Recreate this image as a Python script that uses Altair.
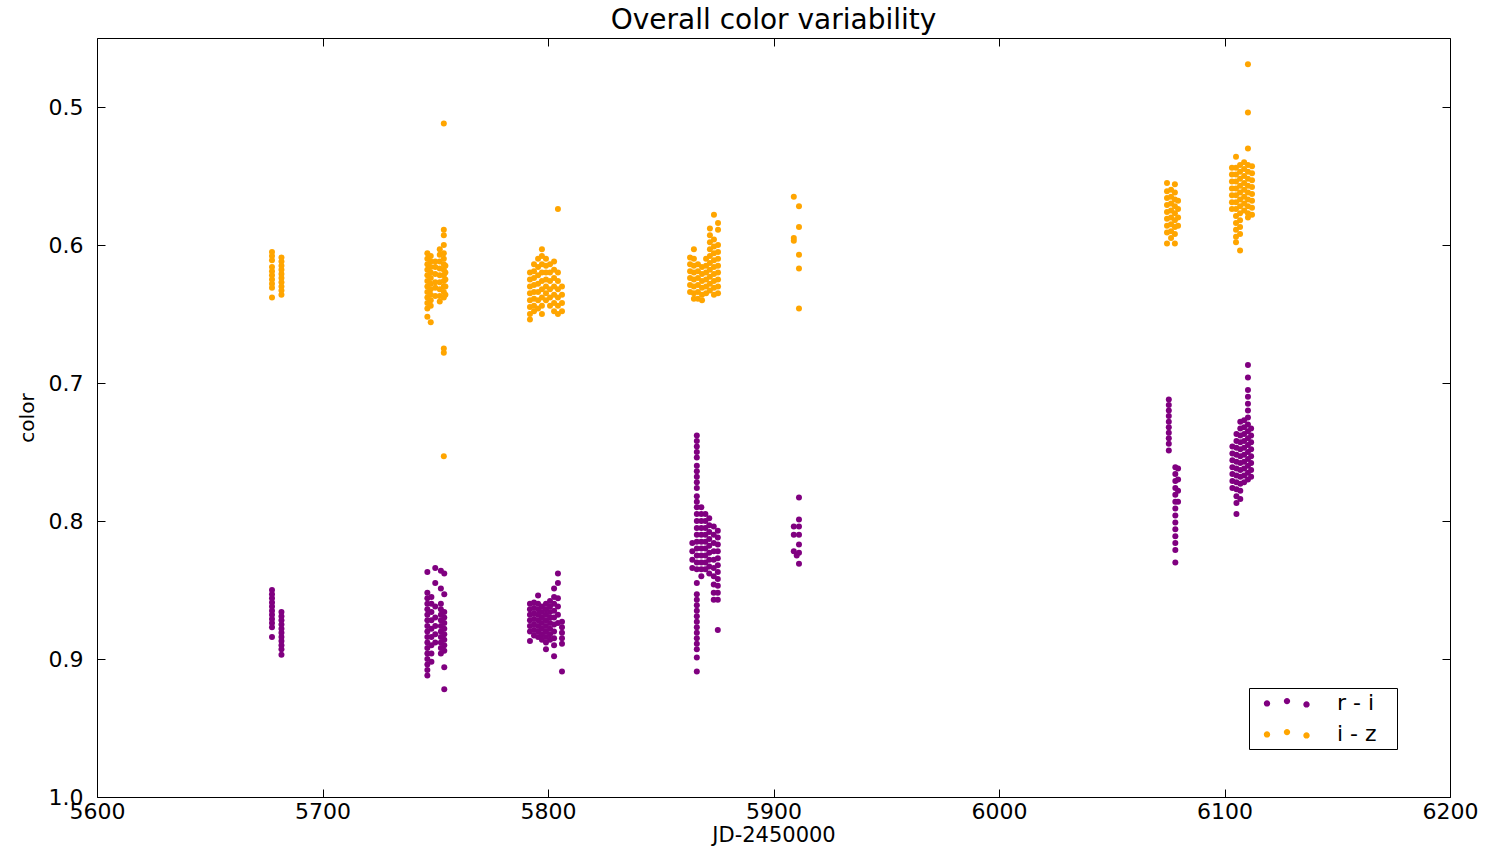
import altair as alt
import pandas as pd

# ---------------- data: columns of (JD-2450000, [colour values]) ----------------
# r - i
ri_s1 = [
    (5677.6, [0.850, 0.853, 0.856, 0.859, 0.862, 0.865, 0.868, 0.871, 0.874, 0.877, 0.884]),
    (5681.8, [0.866, 0.869, 0.872, 0.875, 0.878, 0.881, 0.884, 0.887, 0.890, 0.893, 0.897]),
]
ri_s2 = [
    (5746.5, [0.837, 0.852, 0.856, 0.860, 0.864, 0.868, 0.872, 0.876, 0.880, 0.884, 0.888, 0.892, 0.896, 0.900, 0.904, 0.908, 0.912]),
    (5748.3, [0.855, 0.860, 0.866, 0.872, 0.878, 0.884, 0.890, 0.896, 0.902]),
    (5750.0, [0.834, 0.845, 0.862, 0.870, 0.876, 0.882, 0.888]),
    (5752.5, [0.836, 0.849, 0.860, 0.864, 0.868, 0.872, 0.876, 0.880, 0.884, 0.888, 0.892, 0.896]),
    (5754.0, [0.838, 0.853, 0.866, 0.870, 0.874, 0.878, 0.882, 0.886, 0.890, 0.894, 0.906, 0.922]),
]
ri_s3 = [
    (5792.0, [0.860, 0.864, 0.868, 0.872, 0.876, 0.880, 0.887]),
    (5793.8, [0.859, 0.863, 0.867, 0.871, 0.875, 0.879, 0.883]),
    (5795.6, [0.854, 0.860, 0.864, 0.868, 0.872, 0.876, 0.880, 0.884]),
    (5797.3, [0.862, 0.866, 0.870, 0.874, 0.878, 0.882, 0.886]),
    (5799.1, [0.860, 0.864, 0.868, 0.872, 0.876, 0.880, 0.884, 0.888, 0.893]),
    (5800.9, [0.858, 0.862, 0.866, 0.870, 0.874, 0.878, 0.882, 0.886]),
    (5802.7, [0.849, 0.855, 0.860, 0.865, 0.870, 0.875, 0.880, 0.885, 0.890, 0.898]),
    (5804.4, [0.838, 0.845, 0.856, 0.862, 0.868, 0.874]),
    (5806.2, [0.873, 0.877, 0.881, 0.885, 0.889, 0.909]),
]
ri_s4 = [
    (5864.0, [0.816, 0.822, 0.828, 0.834]),
    (5866.0, [0.738, 0.742, 0.746, 0.750, 0.754, 0.760, 0.764, 0.768, 0.772, 0.776, 0.782, 0.786,
              0.790, 0.795, 0.800, 0.805, 0.810, 0.815, 0.820, 0.825, 0.830, 0.835, 0.845, 0.853,
              0.857, 0.861, 0.865, 0.869, 0.873, 0.877, 0.881, 0.885, 0.889, 0.893, 0.899, 0.909]),
    (5868.0, [0.790, 0.795, 0.800, 0.805, 0.810, 0.815, 0.820, 0.825, 0.830, 0.835, 0.840]),
    (5869.8, [0.795, 0.800, 0.805, 0.810, 0.815, 0.820, 0.825, 0.830, 0.835]),
    (5871.5, [0.798, 0.803, 0.808, 0.813, 0.818, 0.823, 0.828, 0.833, 0.838]),
    (5873.5, [0.804, 0.810, 0.816, 0.822, 0.828, 0.834, 0.840, 0.846, 0.852, 0.857]),
    (5875.3, [0.807, 0.812, 0.817, 0.822, 0.827, 0.832, 0.837, 0.842, 0.847, 0.852, 0.857, 0.879]),
    (5909.0, [0.804, 0.810, 0.822]),
    (5910.3, [0.825]),
    (5911.3, [0.783, 0.799, 0.804, 0.810, 0.817, 0.823, 0.831]),
]
ri_s5 = [
    (6075.3, [0.712, 0.716, 0.720, 0.724, 0.728, 0.732, 0.736, 0.740, 0.744, 0.749]),
    (6078.2, [0.761, 0.766, 0.771, 0.776, 0.781, 0.786, 0.791, 0.796, 0.801, 0.806, 0.811, 0.816, 0.821, 0.830]),
    (6079.4, [0.762, 0.770, 0.778, 0.786]),
    (6103.5, [0.746, 0.751, 0.756, 0.761, 0.766, 0.771, 0.776]),
    (6105.3, [0.737, 0.742, 0.747, 0.752, 0.757, 0.762, 0.767, 0.772, 0.777, 0.782, 0.787, 0.795]),
    (6107.0, [0.728, 0.733, 0.738, 0.743, 0.748, 0.753, 0.758, 0.763, 0.768, 0.773, 0.778, 0.784]),
    (6108.7, [0.727, 0.732, 0.737, 0.742, 0.747, 0.752, 0.757, 0.762, 0.767, 0.772]),
    (6110.4, [0.687, 0.696, 0.705, 0.710, 0.715, 0.720, 0.725, 0.730, 0.735, 0.740, 0.745, 0.750,
              0.755, 0.760, 0.765, 0.770]),
    (6111.8, [0.733, 0.738, 0.743, 0.748, 0.753, 0.758, 0.763, 0.768]),
]

# i - z
iz_s1 = [
    (5677.6, [0.605, 0.608, 0.611, 0.616, 0.619, 0.622, 0.625, 0.628, 0.631, 0.638]),
    (5681.8, [0.609, 0.612, 0.615, 0.618, 0.621, 0.624, 0.627, 0.630, 0.633, 0.636]),
]
iz_s2 = [
    (5746.5, [0.606, 0.610, 0.614, 0.618, 0.622, 0.626, 0.630, 0.634, 0.638, 0.642, 0.646, 0.652]),
    (5748.0, [0.608, 0.612, 0.616, 0.620, 0.624, 0.628, 0.632, 0.636, 0.640, 0.644, 0.656]),
    (5750.0, [0.612, 0.616, 0.621, 0.627, 0.631, 0.637]),
    (5752.0, [0.603, 0.607, 0.612, 0.617, 0.622, 0.627, 0.632, 0.637, 0.641]),
    (5753.8, [0.512, 0.589, 0.593, 0.600, 0.606, 0.610, 0.614, 0.618, 0.622, 0.626, 0.630, 0.634,
              0.638, 0.675, 0.678, 0.753]),
    (5754.5, [0.615, 0.620, 0.625, 0.630, 0.636]),
]
iz_s3 = [
    (5792.0, [0.620, 0.625, 0.630, 0.635, 0.640, 0.645, 0.650, 0.654]),
    (5793.8, [0.614, 0.619, 0.624, 0.629, 0.634, 0.639, 0.644, 0.648]),
    (5795.6, [0.610, 0.616, 0.622, 0.628, 0.634, 0.640, 0.646]),
    (5797.3, [0.603, 0.608, 0.614, 0.620, 0.626, 0.632, 0.638, 0.644, 0.650]),
    (5799.1, [0.610, 0.615, 0.620, 0.625, 0.630, 0.635, 0.640]),
    (5800.9, [0.614, 0.620, 0.626, 0.632, 0.638, 0.644]),
    (5802.7, [0.612, 0.618, 0.624, 0.630, 0.636, 0.642, 0.648]),
    (5804.4, [0.574, 0.620, 0.626, 0.632, 0.638, 0.644, 0.650]),
    (5806.2, [0.630, 0.636, 0.642, 0.648]),
]
iz_s4 = [
    (5863.0, [0.609, 0.614, 0.619, 0.624, 0.629, 0.634]),
    (5864.7, [0.603, 0.610, 0.615, 0.620, 0.625, 0.630, 0.635, 0.639]),
    (5866.5, [0.614, 0.619, 0.624, 0.629, 0.634, 0.639]),
    (5868.3, [0.616, 0.621, 0.626, 0.631, 0.636, 0.640]),
    (5870.1, [0.610, 0.615, 0.620, 0.625, 0.630, 0.635]),
    (5871.8, [0.588, 0.593, 0.598, 0.603, 0.608, 0.613, 0.618, 0.623, 0.628, 0.633]),
    (5873.6, [0.578, 0.596, 0.601, 0.606, 0.611, 0.616, 0.621, 0.626, 0.631, 0.636]),
    (5875.4, [0.584, 0.589, 0.600, 0.605, 0.610, 0.615, 0.620, 0.625, 0.630, 0.635]),
    (5909.0, [0.565, 0.595, 0.597]),
    (5911.3, [0.572, 0.587, 0.607, 0.617, 0.646]),
]
iz_s5 = [
    (6074.5, [0.555, 0.561, 0.566, 0.571, 0.576, 0.581, 0.586, 0.591, 0.599]),
    (6076.3, [0.560, 0.565, 0.570, 0.575, 0.580, 0.585, 0.590, 0.595]),
    (6078.0, [0.556, 0.562, 0.567, 0.572, 0.577, 0.582, 0.587, 0.592, 0.599]),
    (6079.4, [0.568, 0.574, 0.580, 0.586]),
    (6103.3, [0.544, 0.549, 0.554, 0.559, 0.564, 0.569, 0.574]),
    (6105.1, [0.536, 0.544, 0.549, 0.554, 0.559, 0.564, 0.569, 0.574, 0.579, 0.584, 0.589, 0.594, 0.598]),
    (6106.9, [0.542, 0.547, 0.552, 0.557, 0.562, 0.567, 0.572, 0.577, 0.582, 0.587, 0.592, 0.604]),
    (6108.7, [0.540, 0.545, 0.550, 0.555, 0.560, 0.565, 0.570, 0.575]),
    (6110.4, [0.469, 0.504, 0.530, 0.542, 0.547, 0.552, 0.557, 0.562, 0.567, 0.572, 0.577, 0.580]),
    (6112.2, [0.543, 0.548, 0.553, 0.558, 0.563, 0.568, 0.573, 0.578]),
]

series_names = ["r - i", "i - z"]
series_colors = ["#800080", "#ffa500"]
x_ticks = [5600, 5700, 5800, 5900, 6000, 6100, 6200]
y_ticks = [0.5, 0.6, 0.7, 0.8, 0.9, 1.0]


def to_rows(seasons, label):
    out = []
    for season in seasons:
        for jd, vals in season:
            for v in vals:
                out.append({"jd": jd, "color": v, "series": label})
    return out


df = pd.DataFrame(
    to_rows([ri_s1, ri_s2, ri_s3, ri_s4, ri_s5], "r - i")
    + to_rows([iz_s1, iz_s2, iz_s3, iz_s4, iz_s5], "i - z")
)

FONT = "DejaVu Sans"

# legend symbol: three small dots like a matplotlib scatter legend
def dot(cx, cy, r=0.32):
    return f"M{cx - r},{cy} A{r},{r} 0 1,0 {cx + r},{cy} A{r},{r} 0 1,0 {cx - r},{cy} Z "

legend_symbol = (dot(-2.0, 0.04) + dot(0.0, -0.19) + dot(1.95, 0.14) + "M10.6,0").strip()

legend = alt.Legend(
    title=None,
    orient="none",
    legendX=1152,
    legendY=650,
    symbolType=legend_symbol,
    symbolSize=400,
    symbolStrokeWidth=0,
    symbolOpacity=1,
    symbolOffset=23,
    labelFont=FONT,
    labelFontSize=22,
    labelColor="black",
    labelOffset=39,
    rowPadding=9,
    padding=4,
    strokeColor="black",
    fillColor="white",
    cornerRadius=0,
)

color_enc = alt.Color(
    "series:N",
    scale=alt.Scale(domain=series_names, range=series_colors),
    legend=legend,
)

x_scale = alt.Scale(domain=[5600, 6200], nice=False, zero=False)
y_scale = alt.Scale(domain=[0.45, 1.0], nice=False, zero=False, reverse=True)

common_axis = dict(
    tickSize=8,
    offset=-8,
    tickColor="black",
    tickWidth=1,
    domain=False,
    grid=False,
)

x_axis_bottom = alt.Axis(
    orient="bottom",
    values=x_ticks,
    format="d",
    labelFont=FONT,
    labelFontSize=22,
    labelColor="black",
    labelPadding=4,
    labelFlush=False,
    labelOverlap=False,
    title="JD-2450000",
    titleFont=FONT,
    titleFontSize=21,
    titleFontWeight="normal",
    titleColor="black",
    titlePadding=2,
    **common_axis,
)
y_axis_left = alt.Axis(
    orient="left",
    values=y_ticks,
    format=".1f",
    labelFont=FONT,
    labelFontSize=22,
    labelColor="black",
    labelPadding=14,
    labelFlush=False,
    labelOverlap=False,
    title="color",
    titleFont=FONT,
    titleFontSize=20,
    titleFontWeight="normal",
    titleColor="black",
    titlePadding=11,
    **common_axis,
)
x_axis_top = alt.Axis(orient="top", values=x_ticks, labels=False, title=None, **common_axis)
y_axis_right = alt.Axis(orient="right", values=y_ticks, labels=False, title=None, **common_axis)

base = alt.Chart(df).mark_circle(size=36, opacity=1)

layer_ri = base.transform_filter(alt.datum.series == "r - i").encode(
    x=alt.X("jd:Q", scale=x_scale, axis=x_axis_bottom),
    y=alt.Y("color:Q", scale=y_scale, axis=y_axis_left),
    color=color_enc,
)
layer_iz = base.transform_filter(alt.datum.series == "i - z").encode(
    x=alt.X("jd:Q", scale=x_scale, axis=x_axis_top),
    y=alt.Y("color:Q", scale=y_scale, axis=y_axis_right),
    color=color_enc,
)

chart = (
    alt.layer(layer_ri, layer_iz)
    .resolve_axis(x="independent", y="independent")
    .properties(
        width=1353,
        height=759,
        title=alt.TitleParams(
            "Overall color variability",
            font=FONT,
            fontSize=28,
            fontWeight="normal",
            color="black",
            anchor="middle",
            frame="group",
            offset=3,
        ),
        autosize=alt.AutoSizeParams(type="none"),
        padding={"left": 97, "top": 38, "right": 43, "bottom": 50},
    )
    .configure(font=FONT, background="white")
    .configure_view(stroke="black", strokeWidth=1)
)

chart.save("out.html", embed_options={"renderer": "svg", "actions": False})
